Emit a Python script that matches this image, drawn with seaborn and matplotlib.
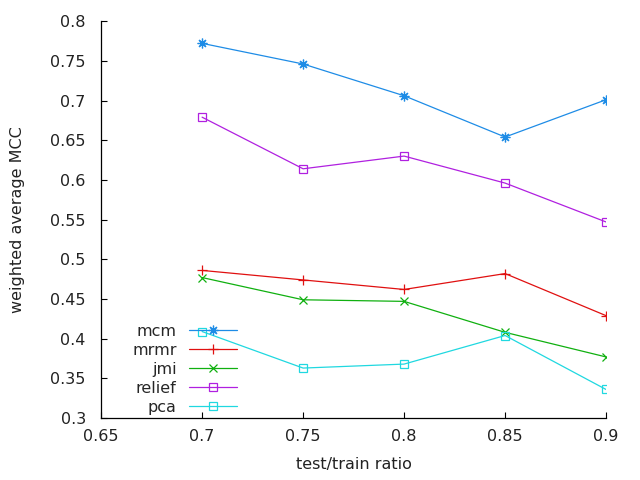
import matplotlib
matplotlib.use("Agg")
import matplotlib.pyplot as plt
import seaborn as sns

# test/train ratios on the x axis
ratios = [0.7, 0.75, 0.8, 0.85, 0.9]

# weighted average MCC for each feature selection method
mcm = [0.772, 0.746, 0.706, 0.654, 0.701]
mrmr = [0.486, 0.474, 0.462, 0.482, 0.429]
jmi = [0.477, 0.449, 0.447, 0.408, 0.377]
relief = [0.679, 0.614, 0.630, 0.596, 0.547]
pca = [0.409, 0.363, 0.368, 0.404, 0.336]

xticks = [0.65, 0.7, 0.75, 0.8, 0.85, 0.9]
yticks = [0.3, 0.35, 0.4, 0.45, 0.5, 0.55, 0.6, 0.65, 0.7, 0.75, 0.8]

sns.set_style("white")
plt.rcParams["font.family"] = ["DejaVu Sans"]
plt.rcParams["font.size"] = 11.5

fig = plt.figure(figsize=(6.4, 4.8), dpi=100)
ax = fig.add_axes([0.158, 0.129, 0.789, 0.827])

series = [
    ("mcm", mcm, "#1e8ce6", (8, 2, 0), 7),
    ("mrmr", mrmr, "#e01010", "+", 7),
    ("jmi", jmi, "#10b010", "x", 5.5),
    ("relief", relief, "#b020e0", "s", 5.5),
    ("pca", pca, "#20d8e0", "s", 5.5),
]

for name, vals, col, mk, ms in series:
    sns.lineplot(x=ratios, y=vals, color=col, marker=mk, markersize=ms,
                 markerfacecolor="none", markeredgecolor=col,
                 markeredgewidth=0.9, linewidth=0.9, label=name, ax=ax)

ax.set_xlim(0.65, 0.9)
ax.set_ylim(0.3, 0.8)
ax.set_xticks(xticks)
ax.set_xticklabels([f"{t:g}" for t in xticks])
ax.set_yticks(yticks)
ax.set_yticklabels([f"{t:g}" for t in yticks])
ax.tick_params(direction="in", length=4, width=0.8, colors="black",
               labelcolor="#222222", bottom=True, left=True)
ax.tick_params(axis="x", pad=8)
ax.tick_params(axis="y", pad=11)

for side in ["top", "right"]:
    ax.spines[side].set_visible(False)
for side in ["left", "bottom"]:
    ax.spines[side].set_color("black")
    ax.spines[side].set_linewidth(0.9)

ax.set_xlabel("test/train ratio", labelpad=9, color="#222222")
ax.set_ylabel("weighted average MCC", labelpad=18, color="#222222")

ax.legend(loc="lower right", bbox_to_anchor=(0.276, 0.0), frameon=False,
          markerfirst=False, handlelength=3.0, handletextpad=0.8,
          labelspacing=0.25, borderpad=0.2, borderaxespad=0.0)

fig.savefig("out.png", dpi=100)
